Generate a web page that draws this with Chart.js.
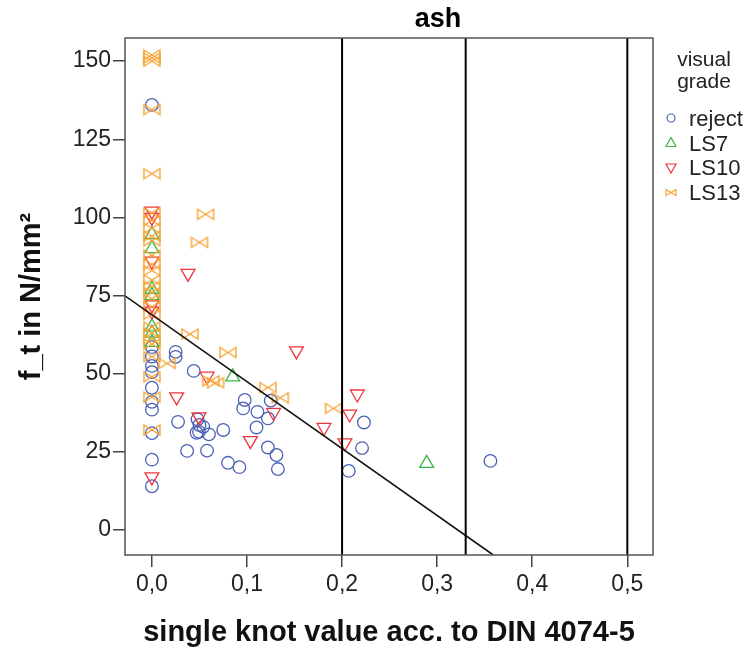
<!DOCTYPE html>
<html>
<head>
<meta charset="utf-8">
<script src="https://cdn.jsdelivr.net/npm/chart.js@4.4.1/dist/chart.umd.min.js"></script>
<style>
  html, body { margin: 0; padding: 0; background: #fff; }
</style>
</head>
<body>
<canvas id="grafico" width="755" height="651"></canvas>
<script>
// valores (knot value x f_t)
const rejectX = [0, 0, 0, 0, 0, 0, 0, 0, 0, 0, 0,
  0.025, 0.025, 0.044, 0.0275, 0.048, 0.050, 0.047, 0.0495, 0.054, 0.060, 0.037, 0.058, 0.075,
  0.080, 0.092, 0.0976, 0.096, 0.111, 0.110, 0.122, 0.125, 0.122, 0.131, 0.1325, 0.223, 0.221, 0.207, 0.356];
const rejectY = [136, 58.5, 55.5, 52.5, 50.5, 45.5, 41, 38.5, 31, 22.5, 14,
  57.0, 55.4, 50.9, 34.6, 35.4, 33.6, 31.1, 31.4, 33, 30.6, 25.3, 25.4, 32,
  21.5, 20.1, 41.6, 38.9, 37.8, 32.8, 35.7, 41.4, 26.4, 24, 19.5, 34.4, 26.2, 18.9, 22.1];

const ls7X = [0, 0, 0, 0, 0, 0, 0, 0.085, 0.289];
const ls7Y = [94.5, 90, 77, 75, 65, 63, 60, 49, 21.3];

const ls10X = [0, 0, 0, 0, 0, 0,
  0.038, 0.152, 0.058, 0.026, 0.0495, 0.1036, 0.128, 0.181, 0.203, 0.216, 0.208];
const ls10Y = [102, 100, 86, 72, 70, 17,
  82.1, 57.3, 49.2, 42.6, 36.2, 28.6, 37.6, 32.8, 27.9, 43.5, 37.1];

const ls13X = [0, 0, 0, 0, 0, 0, 0, 0, 0, 0, 0, 0, 0, 0, 0, 0, 0, 0, 0, 0, 0, 0, 0, 0, 0, 0, 0,
  0.0565, 0.050, 0.040, 0.080, 0.016, 0.062, 0.067, 0.122, 0.135, 0.191];
const ls13Y = [152, 151, 150, 134.5, 114, 101.5, 99, 96.5, 94, 92.5, 88, 85, 83, 80, 78, 76, 74, 71.5,
  69, 65, 63, 61, 59.5, 55.5, 49, 42.5, 32,
  101, 92, 62.7, 56.8, 53.3, 47.7, 47.1, 45.6, 42.3, 38.9];

// linha de regressao (pontos finais) e linhas de referencia
const fitX = [-0.0283, 0.359];
const fitY = [74.9, -8];
const refLines = [0.2, 0.33, 0.5];

const xTicks = [0, 0.1, 0.2, 0.3, 0.4, 0.5];
const yTicks = [0, 25, 50, 75, 100, 125, 150];
const xMin = -0.0283, xMax = 0.527;
const yMin = -8, yMax = 157.4;

const cores = {
  reject: '#4b62b5',
  LS7: '#3cb54a',
  LS10: '#f0343c',
  LS13: '#f7a436'
};
const fonte = 'Liberation Sans, Arial, sans-serif';

function pontos(xs, ys) {
  return xs.map(function (x, i) { return { x: x, y: ys[i] }; });
}

function bowtie(w, h, cor, lw) {
  const c = document.createElement('canvas');
  c.width = w + 4;
  c.height = h + 4;
  const g = c.getContext('2d');
  g.strokeStyle = cor;
  g.lineWidth = lw;
  g.beginPath();
  g.moveTo(2, 2);
  g.lineTo(w + 2, h + 2);
  g.lineTo(w + 2, 2);
  g.lineTo(2, h + 2);
  g.closePath();
  g.stroke();
  return c;
}

const datasets = [];

// linhas verticais
refLines.forEach(function (v) {
  datasets.push({
    label: 'ref',
    data: [{ x: v, y: yMin }, { x: v, y: yMax }],
    showLine: true,
    borderColor: '#000',
    borderWidth: 2,
    pointRadius: 0,
    order: 0
  });
});

datasets.push({
  label: 'fit',
  data: pontos(fitX, fitY),
  showLine: true,
  borderColor: '#111',
  borderWidth: 1.6,
  pointRadius: 0,
  order: 0
});

datasets.push({
  label: 'reject',
  data: pontos(rejectX, rejectY),
  pointStyle: 'circle',
  pointRadius: 6.3,
  pointBorderWidth: 1.3,
  pointBorderColor: cores.reject,
  pointBackgroundColor: 'rgba(0,0,0,0)',
  order: 4
});
datasets.push({
  label: 'LS7',
  data: pontos(ls7X, ls7Y),
  pointStyle: 'triangle',
  pointRadius: 8,
  pointBorderWidth: 1.3,
  pointBorderColor: cores.LS7,
  pointBackgroundColor: 'rgba(0,0,0,0)',
  order: 3
});
datasets.push({
  label: 'LS10',
  data: pontos(ls10X, ls10Y),
  pointStyle: 'triangle',
  pointRotation: 180,
  pointRadius: 8,
  pointBorderWidth: 1.3,
  pointBorderColor: cores.LS10,
  pointBackgroundColor: 'rgba(0,0,0,0)',
  order: 2
});
datasets.push({
  label: 'LS13',
  data: pontos(ls13X, ls13Y),
  pointStyle: bowtie(16, 10, cores.LS13, 1.4),
  pointRadius: 8,
  order: 1
});

// moldura, titulo "ash" e legenda
const extras = {
  id: 'extras',
  afterDraw: function (chart) {
    const ctx = chart.ctx;
    const a = chart.chartArea;
    ctx.save();
    ctx.strokeStyle = '#555';
    ctx.lineWidth = 1.5;
    ctx.strokeRect(a.left, a.top, a.right - a.left, a.bottom - a.top);

    ctx.fillStyle = '#000';
    ctx.font = 'bold 27px ' + fonte;
    ctx.textAlign = 'center';
    ctx.textBaseline = 'middle';
    ctx.fillText('ash', 438, 20);

    ctx.font = '21px ' + fonte;
    ctx.fillStyle = '#222';
    ctx.fillText('visual', 704, 60);
    ctx.fillText('grade', 704, 82);

    const itens = ['reject', 'LS7', 'LS10', 'LS13'];
    ctx.textAlign = 'left';
    ctx.font = '22px ' + fonte;
    itens.forEach(function (nome, i) {
      const y = 120 + i * 24.5;
      const x = 671;
      ctx.strokeStyle = cores[nome];
      ctx.lineWidth = 1.2;
      ctx.beginPath();
      if (nome === 'reject') {
        ctx.arc(x, y - 2, 4, 0, Math.PI * 2);
      } else if (nome === 'LS7') {
        ctx.moveTo(x, y - 7);
        ctx.lineTo(x + 5, y + 2);
        ctx.lineTo(x - 5, y + 2);
        ctx.closePath();
      } else if (nome === 'LS10') {
        ctx.moveTo(x - 5, y - 5);
        ctx.lineTo(x + 5, y - 5);
        ctx.lineTo(x, y + 4);
        ctx.closePath();
      } else {
        ctx.moveTo(x - 5, y - 4);
        ctx.lineTo(x + 5, y + 2);
        ctx.lineTo(x + 5, y - 4);
        ctx.lineTo(x - 5, y + 2);
        ctx.closePath();
      }
      ctx.stroke();
      ctx.fillStyle = '#222';
      ctx.fillText(nome, 689, y);
    });
    ctx.restore();
  }
};

new Chart(document.getElementById('grafico'), {
  type: 'scatter',
  data: { datasets: datasets },
  options: {
    responsive: false,
    animation: false,
    layout: { padding: { left: 0, right: 102, top: 38, bottom: 0 } },
    plugins: {
      legend: { display: false },
      title: { display: false },
      tooltip: { enabled: false }
    },
    scales: {
      x: {
        type: 'linear',
        min: xMin,
        max: xMax,
        afterBuildTicks: function (axis) {
          axis.ticks = xTicks.map(function (v) { return { value: v }; });
        },
        afterFit: function (axis) { axis.height = 96; },
        grid: { drawOnChartArea: false, drawTicks: true, tickLength: 12, color: '#444', lineWidth: 1.5 },
        border: { display: false },
        ticks: {
          padding: 4,
          color: '#222',
          font: { family: fonte, size: 23 },
          callback: function (v) { return v.toFixed(1).replace('.', ','); }
        },
        title: {
          display: true,
          text: 'single knot value acc. to DIN 4074-5',
          color: '#111',
          font: { family: fonte, size: 29, weight: 'bold' },
          padding: { top: 0, bottom: 1 }
        }
      },
      y: {
        type: 'linear',
        min: yMin,
        max: yMax,
        afterBuildTicks: function (axis) {
          axis.ticks = yTicks.map(function (v) { return { value: v }; });
        },
        afterFit: function (axis) { axis.width = 125; },
        grid: { drawOnChartArea: false, drawTicks: true, tickLength: 12, color: '#444', lineWidth: 1.5 },
        border: { display: false },
        ticks: {
          padding: 2,
          color: '#222',
          font: { family: fonte, size: 23 }
        },
        title: {
          display: true,
          text: 'f_t in N/mm²',
          color: '#111',
          font: { family: fonte, size: 29, weight: 'bold' },
          padding: { top: 15, bottom: 0 }
        }
      }
    }
  },
  plugins: [extras]
});
</script>
</body>
</html>
